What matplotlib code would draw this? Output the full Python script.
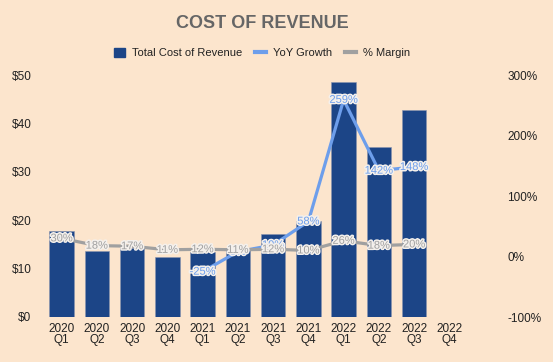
import matplotlib
matplotlib.use("Agg")
import matplotlib.pyplot as plt
import matplotlib.patheffects as pe
from matplotlib.lines import Line2D
from matplotlib.patches import Patch

plt.rcParams['font.family'] = ['Liberation Sans', 'DejaVu Sans']

quarters = ["2020\nQ1", "2020\nQ2", "2020\nQ3", "2020\nQ4",
            "2021\nQ1", "2021\nQ2", "2021\nQ3", "2021\nQ4",
            "2022\nQ1", "2022\nQ2", "2022\nQ3", "2022\nQ4"]
cost = [17.7, 13.6, 14.2, 12.5, 13.5, 14.3, 17.1, 19.9, 48.6, 35.2, 42.8, None]
yoy = [None, None, None, None, -25, 8, 19, 58, 259, 142, 148, None]
margin = [30, 18, 17, 11, 12, 11, 12, 10, 26, 18, 20, None]

BG = "#fce5cd"
BAR = "#1c4587"
BLUE = "#6d9eeb"
GRAY = "#a0a0a0"

fig = plt.figure(figsize=(5.53, 3.62), dpi=100, facecolor=BG)
ax = fig.add_axes([44 / 553, 45 / 362, 423 / 553, 242 / 362])
ax.set_facecolor(BG)
ax2 = ax.twinx()

x = list(range(len(quarters)))
bx = [i for i, v in enumerate(cost) if v is not None]
ax.bar(bx, [cost[i] for i in bx], width=0.7, color=BAR,
       edgecolor="#8a94b0", linewidth=0.4, zorder=2)

yx = [i for i, v in enumerate(yoy) if v is not None]
yv = [yoy[i] for i in yx]
mx = [i for i, v in enumerate(margin) if v is not None]
mv = [margin[i] for i in mx]
ax2.plot(yx, yv, color=BLUE, lw=2.3, zorder=3, solid_capstyle="butt")
ax2.plot(mx, mv, color=GRAY, lw=2.3, zorder=4, solid_capstyle="butt")

halo = [pe.withStroke(linewidth=2.2, foreground="#f4f0ec")]
for i, v in zip(yx, yv):
    ax2.text(i, v, f"{v}%", ha="center", va="center", fontsize=8,
             color=BLUE, path_effects=halo, zorder=5)
for i, v in zip(mx, mv):
    ax2.text(i, v, f"{v}%", ha="center", va="center", fontsize=8,
             color=GRAY, path_effects=halo, zorder=6)

ax.set_xlim(-0.5, len(quarters) - 0.5)
ax.set_ylim(0, 50)
ax.set_yticks([0, 10, 20, 30, 40, 50])
ax.set_yticklabels([f"${t}" for t in [0, 10, 20, 30, 40, 50]])
ax2.set_ylim(-100, 300)
ax2.set_yticks([-100, 0, 100, 200, 300])
ax2.set_yticklabels([f"{t}%" for t in [-100, 0, 100, 200, 300]])
ax.set_xticks(x)
ax.set_xticklabels(quarters, linespacing=0.95)

for a in (ax, ax2):
    for s in a.spines.values():
        s.set_visible(False)
    a.tick_params(length=0, labelsize=8.5, colors="#222222")
ax.tick_params(axis="y", pad=9)
ax.tick_params(axis="x", pad=4)
ax2.tick_params(axis="y", pad=29)
ax2.set_zorder(ax.get_zorder() + 1)
ax2.patch.set_visible(False)

fig.text(262 / 553, 1 - 24 / 362, "COST OF REVENUE", ha="center", va="center",
         fontsize=13, fontweight="bold", color="#666666")

handles = [Patch(facecolor=BAR, edgecolor=BAR),
           Line2D([0], [0], color=BLUE, lw=3),
           Line2D([0], [0], color=GRAY, lw=3)]
fig.legend(handles, ["Total Cost of Revenue", "YoY Growth", "% Margin"],
           loc="center", bbox_to_anchor=(262 / 553, 1 - 53 / 362), ncol=3,
           frameon=False, fontsize=8, handlelength=1.0, handleheight=0.9,
           handletextpad=0.6, columnspacing=1.2, labelcolor="#222222")

fig.savefig("out.png", dpi=100, facecolor=BG)
